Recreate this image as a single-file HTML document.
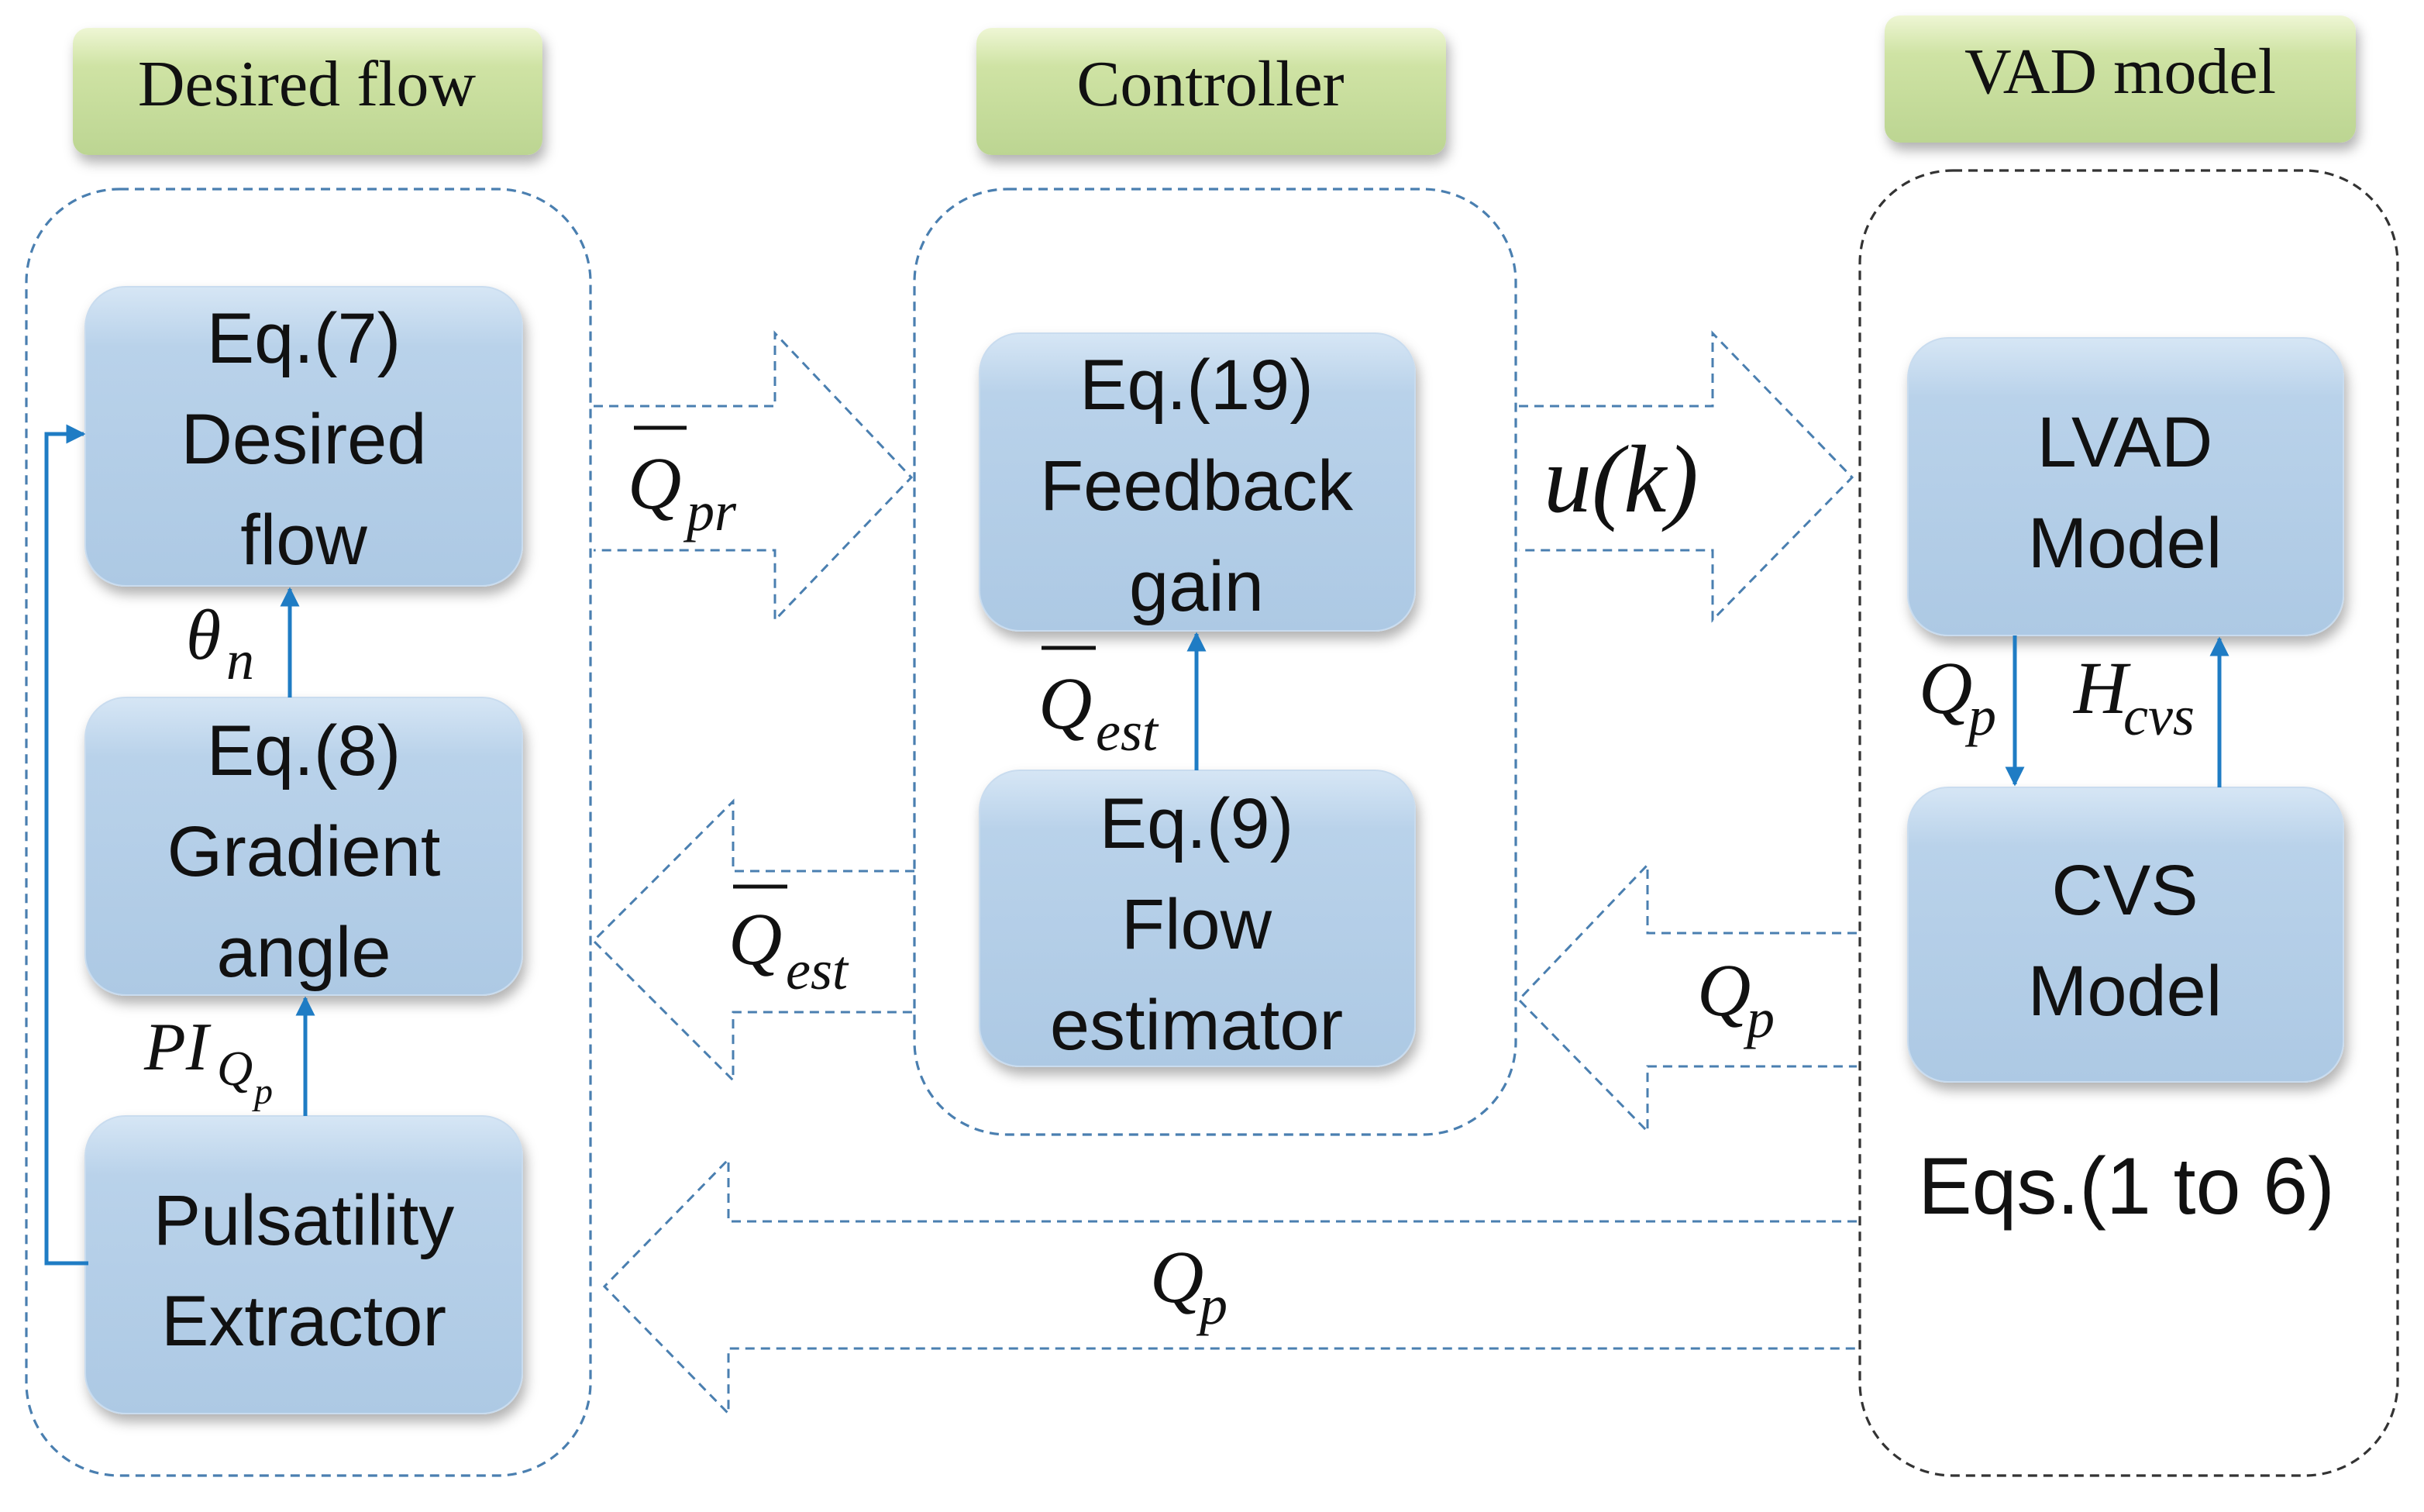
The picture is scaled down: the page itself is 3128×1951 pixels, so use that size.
<!DOCTYPE html>
<html><head><meta charset="utf-8"><style>
html,body{margin:0;padding:0;background:#fff}
svg{display:block}
.h{font-family:"Liberation Serif",serif;font-size:42px;fill:#111}
.b{font-family:"Liberation Sans",sans-serif;font-size:46px;fill:#111;text-anchor:middle}
.m{font-family:"Liberation Serif",serif;font-style:italic;fill:#111}
</style></head><body>
<svg width="3128" height="1951" viewBox="0 0 1564 975.5" xmlns="http://www.w3.org/2000/svg">
<defs>
<linearGradient id="g" x1="0" y1="0" x2="0" y2="1"><stop offset="0" stop-color="#eef6d4"/><stop offset="0.3" stop-color="#cfe3a4"/><stop offset="1" stop-color="#bcd592"/></linearGradient>
<linearGradient id="bl" x1="0" y1="0" x2="0" y2="1"><stop offset="0" stop-color="#d6e6f5"/><stop offset="0.2" stop-color="#b9d2ea"/><stop offset="1" stop-color="#adc9e4"/></linearGradient>
<filter id="sh" x="-10%" y="-10%" width="130%" height="130%"><feDropShadow dx="2" dy="5" stdDeviation="4" flood-color="#000" flood-opacity="0.3"/></filter>
<marker id="ah" viewBox="0 0 10 10" refX="9" refY="5" markerWidth="5" markerHeight="5" orient="auto"><path d="M0,0 L10,5 L0,10z" fill="#1f7cc4"/></marker>
</defs>
<g filter="url(#sh)">
<rect x="47" y="18" width="303" height="82" rx="10" fill="url(#g)"/>
<rect x="630" y="18" width="303" height="82" rx="10" fill="url(#g)"/>
<rect x="1216" y="10" width="304" height="82" rx="10" fill="url(#g)"/>
</g>
<text class="h" x="198" y="68" text-anchor="middle">Desired flow</text>
<text class="h" x="781" y="68" text-anchor="middle">Controller</text>
<text class="h" x="1368" y="60" text-anchor="middle">VAD model</text>
<g fill="none" stroke-width="1.6" stroke-dasharray="6,4">
<rect x="17" y="122" width="364" height="830" rx="60" stroke="#4a7fb0"/>
<rect x="590" y="122" width="388" height="610" rx="60" stroke="#4a7fb0"/>
<rect x="1200" y="110" width="347" height="842" rx="60" stroke="#333"/>
</g>
<g fill="none" stroke="#4a7fb0" stroke-width="1.5" stroke-dasharray="6,4">
<path d="M383,262 H500 V215 L588,308 L500,400 V355 H383"/>
<path d="M980,262 H1105 V215 L1195,308 L1105,400 V355 H980"/>
<path d="M590,562 H473 V517 L383,607 L473,697 V653 H590"/>
<path d="M1198,602 H1063 V558 L980,645 L1063,730 V688 H1198"/>
<path d="M1198,788 H470 V748 L390,830 L470,912 V870 H1198"/>
</g>
<g filter="url(#sh)" fill="url(#bl)" stroke="#c9dcef" stroke-width="1">
<rect x="55" y="185" width="282" height="193" rx="26"/>
<rect x="55" y="450" width="282" height="192" rx="26"/>
<rect x="55" y="720" width="282" height="192" rx="26"/>
<rect x="632" y="215" width="281" height="192" rx="26"/>
<rect x="632" y="497" width="281" height="191" rx="26"/>
<rect x="1231" y="218" width="281" height="192" rx="26"/>
<rect x="1231" y="508" width="281" height="190" rx="26"/>
</g>
<text class="b" x="196" y="234">Eq.(7)</text><text class="b" x="196" y="299">Desired</text><text class="b" x="196" y="364">flow</text>
<text class="b" x="196" y="500">Eq.(8)</text><text class="b" x="196" y="565">Gradient</text><text class="b" x="196" y="630">angle</text>
<text class="b" x="196" y="803">Pulsatility</text><text class="b" x="196" y="868">Extractor</text>
<text class="b" x="772" y="264">Eq.(19)</text><text class="b" x="772" y="329">Feedback</text><text class="b" x="772" y="394">gain</text>
<text class="b" x="772" y="547">Eq.(9)</text><text class="b" x="772" y="612">Flow</text><text class="b" x="772" y="677">estimator</text>
<text class="b" x="1371" y="301">LVAD</text><text class="b" x="1371" y="366">Model</text>
<text class="b" x="1371" y="590">CVS</text><text class="b" x="1371" y="655">Model</text>
<text class="b" x="1372" y="783" style="font-size:52px">Eqs.(1 to 6)</text>
<g stroke="#1f7cc4" stroke-width="2.5" fill="none" marker-end="url(#ah)">
<path d="M187,450 V380"/>
<path d="M197,720 V644"/>
<path d="M57,815 H30 V280 H54"/>
<path d="M772,497 V409"/>
<path d="M1300,410 V506"/>
<path d="M1432,508 V412"/>
</g>
<g class="m">
<text x="405" y="328" font-size="48">Q</text><text x="443" y="342" font-size="36">pr</text><line x1="409" y1="276" x2="443" y2="276" stroke="#111" stroke-width="2.5"/>
<text x="996" y="330" font-size="62">u(k)</text>
<text x="670" y="470" font-size="48">Q</text><text x="707" y="484" font-size="36">est</text><line x1="672" y1="418" x2="707" y2="418" stroke="#111" stroke-width="2.5"/>
<text x="470" y="622" font-size="48">Q</text><text x="507" y="638" font-size="36">est</text><line x1="473" y1="572" x2="508" y2="572" stroke="#111" stroke-width="2.5"/>
<text x="1095" y="655" font-size="48">Q</text><text x="1127" y="669" font-size="36">p</text>
<text x="742" y="840" font-size="48">Q</text><text x="774" y="854" font-size="36">p</text>
<text x="120" y="425" font-size="46">θ</text><text x="146" y="438" font-size="36">n</text>
<text x="93" y="690" font-size="44">PI</text><text x="140" y="700" font-size="32">Q</text><text x="164" y="712" font-size="24">p</text>
<text x="1238" y="460" font-size="48">Q</text><text x="1270" y="474" font-size="36">p</text>
<text x="1338" y="460" font-size="48">H</text><text x="1370" y="474" font-size="36">cvs</text>
</g>
</svg>
</body></html>
